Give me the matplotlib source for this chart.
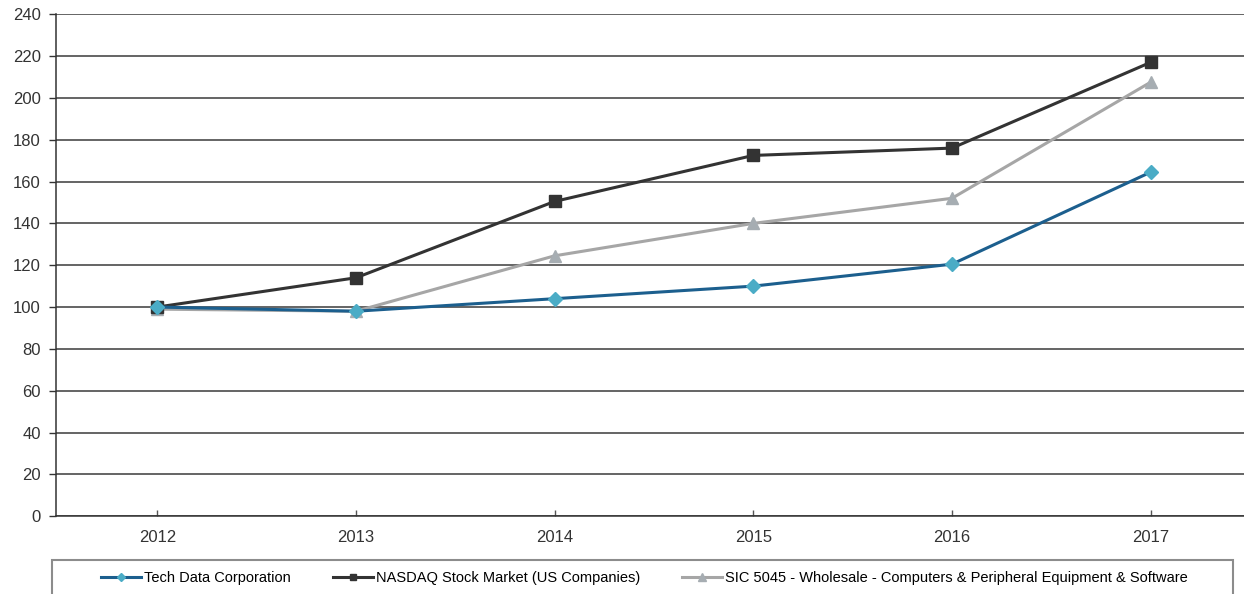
import numpy as np
import matplotlib.pyplot as plt
from matplotlib.patches import Rectangle

years = ["2012", "2013", "2014", "2015", "2016", "2017"]
tech_data = [100, 98, 104, 110, 120.5, 164.5]
nasdaq = [100, 114, 150.5, 172.5, 176, 217]
sic_5045 = [99, 98, 124.5, 140, 152, 207.5]
yticks = list(range(0, 241, 20))

plt.rcParams['font.family'] = ['Liberation Sans', 'DejaVu Sans']

fig = plt.figure(figsize=(12.44, 5.94), dpi=100)
ax = fig.add_axes([0.045, 0.131, 0.955, 0.845])

x = np.arange(len(years))
ax.plot(x, tech_data, "-D", color="#1c5f8e", lw=2.2, ms=7,
        mfc="#4bacc6", mec="#4bacc6", label="Tech Data Corporation", zorder=5)
ax.plot(x, nasdaq, "-s", color="#333333", lw=2.2, ms=8,
        mfc="#333333", mec="#333333", label="NASDAQ Stock Market (US Companies)", zorder=4)
ax.plot(x, sic_5045, "-^", color="#a6a6a6", lw=2.2, ms=9,
        mfc="#a6adb2", mec="#a6adb2",
        label="SIC 5045 - Wholesale - Computers & Peripheral Equipment & Software", zorder=3)

ax.set_ylim(0, 240)
ax.set_xlim(-0.51, 5.47)
ax.set_yticks(yticks)
ax.set_xticks(x)
ax.set_xticklabels(years)
ax.yaxis.grid(True, color="#3a3a3a", lw=1.1)
ax.set_axisbelow(True)
for s in ["top", "right"]:
    ax.spines[s].set_visible(False)
ax.spines["left"].set_color("#333333")
ax.spines["bottom"].set_color("#333333")
ax.spines["left"].set_linewidth(1.1)
ax.spines["bottom"].set_linewidth(1.1)
ax.tick_params(axis="y", direction="out", length=5, width=1, color="#333333",
               labelsize=12, labelcolor="#333333", pad=6)
ax.tick_params(axis="x", direction="in", length=4, width=1, color="#555555",
               labelsize=12, labelcolor="#333333", pad=10)

fig.patches.append(Rectangle((0.042, -0.1), 0.949, 0.157, transform=fig.transFigure,
                             fill=False, edgecolor="#8c8c8c", lw=1.5))
fig.legend(loc="center", bbox_to_anchor=(0.518, 0.027), ncol=3, frameon=False,
           prop={"family": ["Liberation Sans Narrow", "Liberation Sans"], "size": 10.5},
           handlelength=2.75, handletextpad=0.2, columnspacing=2.9, markerscale=0.6)

fig.savefig("out.png", dpi=100)
